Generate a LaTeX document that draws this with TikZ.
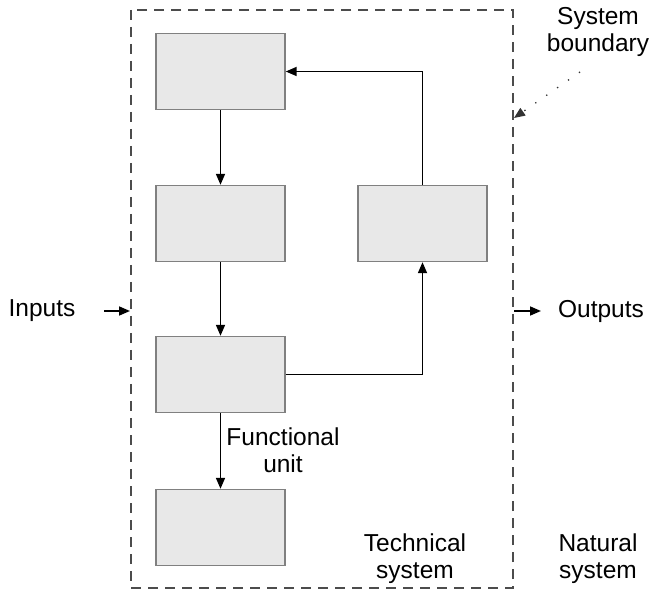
\documentclass[tikz,border=0pt]{standalone}
\usepackage{fontspec}
\setmainfont{Liberation Sans}
\usetikzlibrary{arrows.meta,positioning}
\begin{document}
\begin{tikzpicture}[x=1pt,y=-1pt,
  fbox/.style={draw=black!50,line width=1.4pt,fill=black!9,minimum width=129pt,minimum height=76pt,inner sep=0pt},
  conn/.style={line width=1.7pt,-{Triangle[length=11pt,width=9pt]}},
  lbl/.style={font=\fontsize{24.5}{27}\selectfont,align=center,inner sep=0pt},
  bound/.style={draw=black!70,line width=1.1pt,dash pattern=on 10pt off 7pt}]
\useasboundingbox (0,0) rectangle (656,593);
\draw[bound] (131,10) rectangle (513,588);
\node[fbox] (b1) at (220.5,71.5) {};
\node[fbox] (b2) at (220.5,223.5) {};
\node[fbox] (b3) at (422.5,223.5) {};
\node[fbox] (b4) at (220.5,374.5) {};
\node[fbox] (b5) at (220.5,527.5) {};
\draw[conn] (b1) -- (b2);
\draw[conn] (b2) -- (b4);
\draw[conn] (b4) -- (b5);
\draw[conn] (b4.east) -| (b3.south);
\draw[conn] (b3.north) |- (b1.east);
\node[lbl] (fu) at (283,450) {Functional\\unit};
\node[lbl] (inp) at (42,311) {Inputs};
\coordinate (ia) at (104,311);
\coordinate (ib) at (130,311);
\draw[conn] (ia) -- (ib);
\node[lbl] (outp) at (601,311) {Outputs};
\coordinate (oa) at (514,311);
\coordinate (ob) at (541,311);
\draw[conn] (oa) -- (ob);
\node[lbl] (sb) at (598,32) {System\\boundary};
\coordinate (sa) at (580,72);
\coordinate (sc) at (514,118);
\draw[line width=1.3pt,dash pattern=on 1.3pt off 12pt,-{Triangle[length=11pt,width=9pt]},black!80] (sa) -- (sc);
\node[lbl] (ts) at (415,559) {Technical\\system};
\node[lbl] (ns) at (598,559) {Natural\\system};
\end{tikzpicture}
\end{document}
